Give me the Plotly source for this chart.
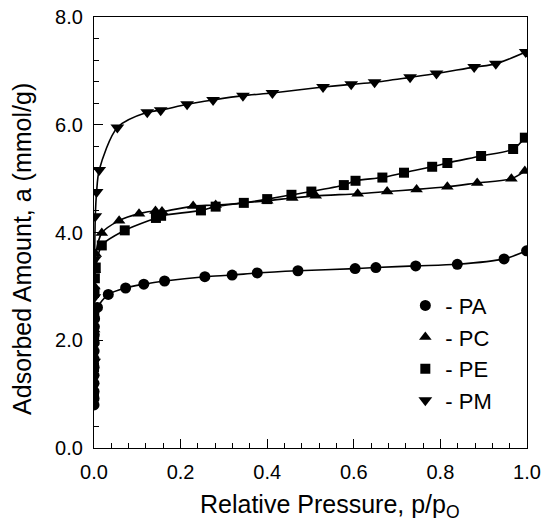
import plotly.graph_objects as go

# ---- data ----
pa_x = [0.00002, 0.00004, 0.00006, 0.00008, 0.0001, 0.00015, 0.0002, 0.0003, 0.0004, 0.0006, 0.0009, 0.0014,
        0.008, 0.033, 0.073, 0.115, 0.163, 0.256, 0.319, 0.377, 0.471, 0.603, 0.651, 0.743, 0.839, 0.947, 0.999]
pa_y = [0.80, 0.92, 1.05, 1.20, 1.35, 1.50, 1.65, 1.80, 1.95, 2.10, 2.25, 2.40,
        2.61, 2.85, 2.97, 3.04, 3.10, 3.18, 3.21, 3.25, 3.29, 3.33, 3.35, 3.38, 3.41, 3.51, 3.66]

pc_x = [0.0002, 0.0005, 0.001, 0.002, 0.004, 0.018, 0.058, 0.104, 0.142, 0.157, 0.229, 0.281,
        0.40, 0.458, 0.512, 0.609, 0.677, 0.745, 0.816, 0.885, 0.964, 0.995]
pc_y = [2.20, 2.60, 3.00, 3.30, 3.60, 3.99, 4.22, 4.35, 4.40, 4.39, 4.49, 4.51,
        4.59, 4.64, 4.68, 4.72, 4.76, 4.80, 4.85, 4.92, 5.00, 5.14]

pe_x = [0.00005, 0.0001, 0.0003, 0.0006, 0.0012, 0.002, 0.004, 0.018, 0.071, 0.143, 0.155, 0.247,
        0.281, 0.346, 0.400, 0.456, 0.502, 0.577, 0.604, 0.666, 0.716, 0.781, 0.816, 0.894, 0.968, 0.995]
pe_y = [1.00, 1.50, 2.00, 2.50, 2.90, 3.15, 3.35, 3.76, 4.04, 4.27, 4.31, 4.41,
        4.48, 4.55, 4.62, 4.70, 4.76, 4.88, 4.96, 5.02, 5.11, 5.22, 5.29, 5.42, 5.55, 5.76]

pm_x = [0.0003, 0.0008, 0.0015, 0.003, 0.006, 0.012, 0.054, 0.123, 0.154, 0.215, 0.275, 0.344,
        0.412, 0.529, 0.594, 0.648, 0.730, 0.791, 0.878, 0.928, 0.997]
pm_y = [1.60, 2.80, 3.50, 4.30, 4.75, 5.16, 5.95, 6.23, 6.27, 6.38, 6.46, 6.54,
        6.59, 6.70, 6.75, 6.79, 6.88, 6.95, 7.07, 7.13, 7.35]

names = ["- PA", "- PC", "- PE", "- PM"]
symbols = ["circle", "triangle-up", "square", "triangle-down"]
sizes = [11, 11, 10, 12]
xs = [pa_x, pc_x, pe_x, pm_x]
ys = [pa_y, pc_y, pe_y, pm_y]

FONT = "Liberation Sans, Arial, Helvetica, sans-serif"

fig = go.Figure()
for x, y in zip(xs, ys):
    fig.add_trace(go.Scatter(x=x, y=y, mode="lines", line=dict(color="black", width=1.6, shape="spline", smoothing=0.8),
                             showlegend=False, hoverinfo="skip"))
for i, (x, y) in enumerate(zip(xs, ys)):
    fig.add_trace(go.Scatter(x=x, y=y, mode="markers", name=names[i], legendgroup=names[i],
                             marker=dict(symbol=symbols[i], size=sizes[i], color="black", line=dict(width=0))))

fig.update_layout(
    width=547, height=529,
    margin=dict(l=94, r=20, t=17, b=81),
    paper_bgcolor="white", plot_bgcolor="white",
    font=dict(family=FONT, color="black", size=20),
    legend=dict(x=0.719, y=0.379, xanchor="left", yanchor="top", bgcolor="rgba(0,0,0,0)",
                font=dict(size=22), traceorder="grouped", tracegroupgap=0, itemsizing="trace"),
    annotations=[
        dict(text="Relative Pressure, p/p<sub>O</sub>", x=(330 - 94) / 433, y=-(506 - 448) / 431,
             xref="paper", yref="paper", xanchor="center", yanchor="middle",
             showarrow=False, font=dict(size=25)),
        dict(text="Adsorbed Amount, a (mmol/g)", x=-(94 - 22) / 433, y=0.462,
             xref="paper", yref="paper", xanchor="center", yanchor="middle",
             showarrow=False, textangle=-90, font=dict(size=25)),
    ],
)

fig.update_xaxes(range=[0, 1], dtick=0.2, tickformat=".1f", showgrid=False, zeroline=False, automargin=False,
                 showline=True, linecolor="black", linewidth=1.2, mirror=True,
                 ticks="inside", ticklen=9, tickwidth=1, tickcolor="black", ticklabelstandoff=6,
                 minor=dict(dtick=0.04, ticks="inside", ticklen=5, tickcolor="black", showgrid=False))
fig.update_yaxes(range=[0, 8], dtick=2, tickformat=".1f", showgrid=False, zeroline=False, automargin=False,
                 showline=True, linecolor="black", linewidth=1.2, mirror=True,
                 ticks="inside", ticklen=9, tickwidth=1, tickcolor="black", ticklabelstandoff=6,
                 minor=dict(dtick=0.4, ticks="inside", ticklen=5, tickcolor="black", showgrid=False))

fig.write_html("out.html")
